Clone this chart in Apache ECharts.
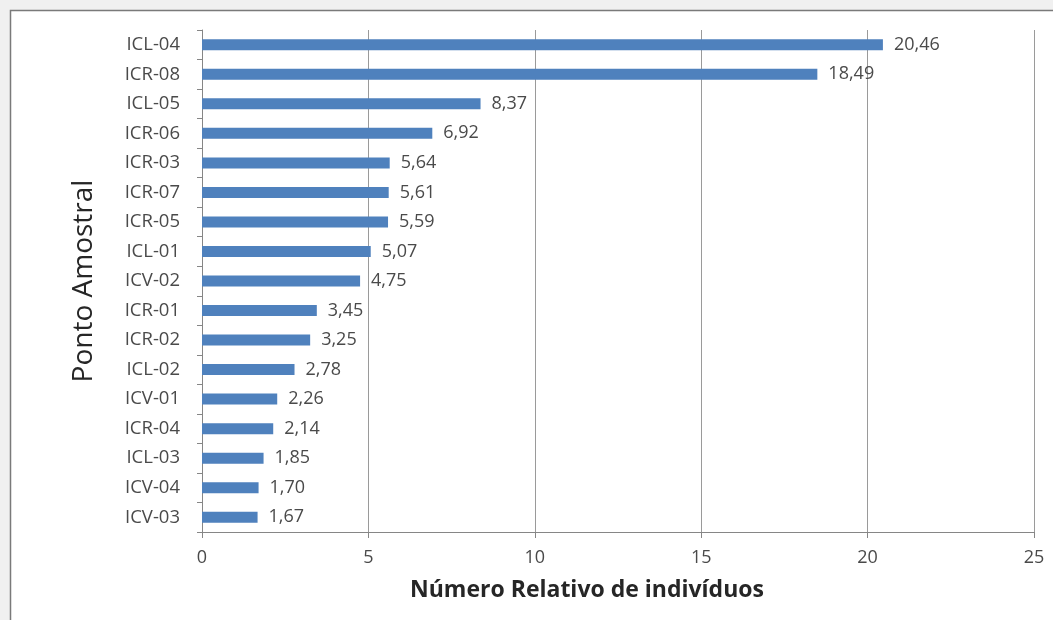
<!DOCTYPE html>
<html><head><meta charset="utf-8">
<script src="https://cdn.jsdelivr.net/npm/echarts@6/dist/echarts.min.js"></script>
<style>html,body{margin:0;padding:0;background:#f0f0f0;}#c{width:1053px;height:620px;}</style>
</head><body><div id="c"></div>
<script>
const categories = ['ICL-04','ICR-08','ICL-05','ICR-06','ICR-03','ICR-07','ICR-05','ICL-01','ICV-02','ICR-01','ICR-02','ICL-02','ICV-01','ICR-04','ICL-03','ICV-04','ICV-03'];
const values = [20.46,18.49,8.37,6.92,5.64,5.61,5.59,5.07,4.75,3.45,3.25,2.78,2.26,2.14,1.85,1.70,1.67];
const xTicks = [0,5,10,15,20,25];
const xTitle = 'Número Relativo de indivíduos';
const yTitle = 'Ponto Amostral';

const font = '"Open Sans", Lato, sans-serif';
const chart = echarts.init(document.getElementById('c'));
chart.setOption({
  backgroundColor: '#f0f0f0',
  animation: false,
  graphic: [{
    type: 'rect', z: -10, silent: true,
    shape: { x: 10.5, y: 10.5, width: 1100, height: 700 },
    style: { fill: '#ffffff', stroke: '#7a7a7a', lineWidth: 1.5 }
  }],
  grid: { left: 202, right: 19, top: 30, bottom: 88 },
  xAxis: {
    type: 'value', min: xTicks[0], max: xTicks[xTicks.length-1], interval: 5,
    axisLine: { show: true, lineStyle: { color: '#868686' } },
    axisTick: { show: true, length: 6, lineStyle: { color: '#868686' } },
    splitLine: { show: true, lineStyle: { color: '#9a9a9a' } },
    axisLabel: { color: '#4a4a4a', fontSize: 18, fontFamily: font, margin: 17 },
    name: xTitle, nameLocation: 'middle', nameGap: 47,
    nameTextStyle: { color: '#262626', fontSize: 23, fontWeight: 'bold', fontFamily: font, padding: [0, 62, 0, 0] }
  },
  yAxis: {
    type: 'category', data: categories, inverse: true,
    axisLine: { show: true, lineStyle: { color: '#868686' } },
    axisTick: { show: true, length: 5, interval: 0, lineStyle: { color: '#868686' } },
    axisLabel: { color: '#4a4a4a', fontSize: 18.5, fontFamily: font, margin: 22 },
    name: yTitle, nameLocation: 'middle', nameGap: 104, nameRotate: 90,
    nameTextStyle: { color: '#262626', fontSize: 28, fontFamily: font }
  },
  series: [{
    type: 'bar', data: values, barWidth: 11,
    itemStyle: { color: '#4F81BD' },
    label: {
      show: true, position: 'right', distance: 11,
      color: '#4a4a4a', fontSize: 18, fontFamily: font,
      formatter: p => p.value.toFixed(2).replace('.', ',')
    }
  }]
});
</script></body></html>
